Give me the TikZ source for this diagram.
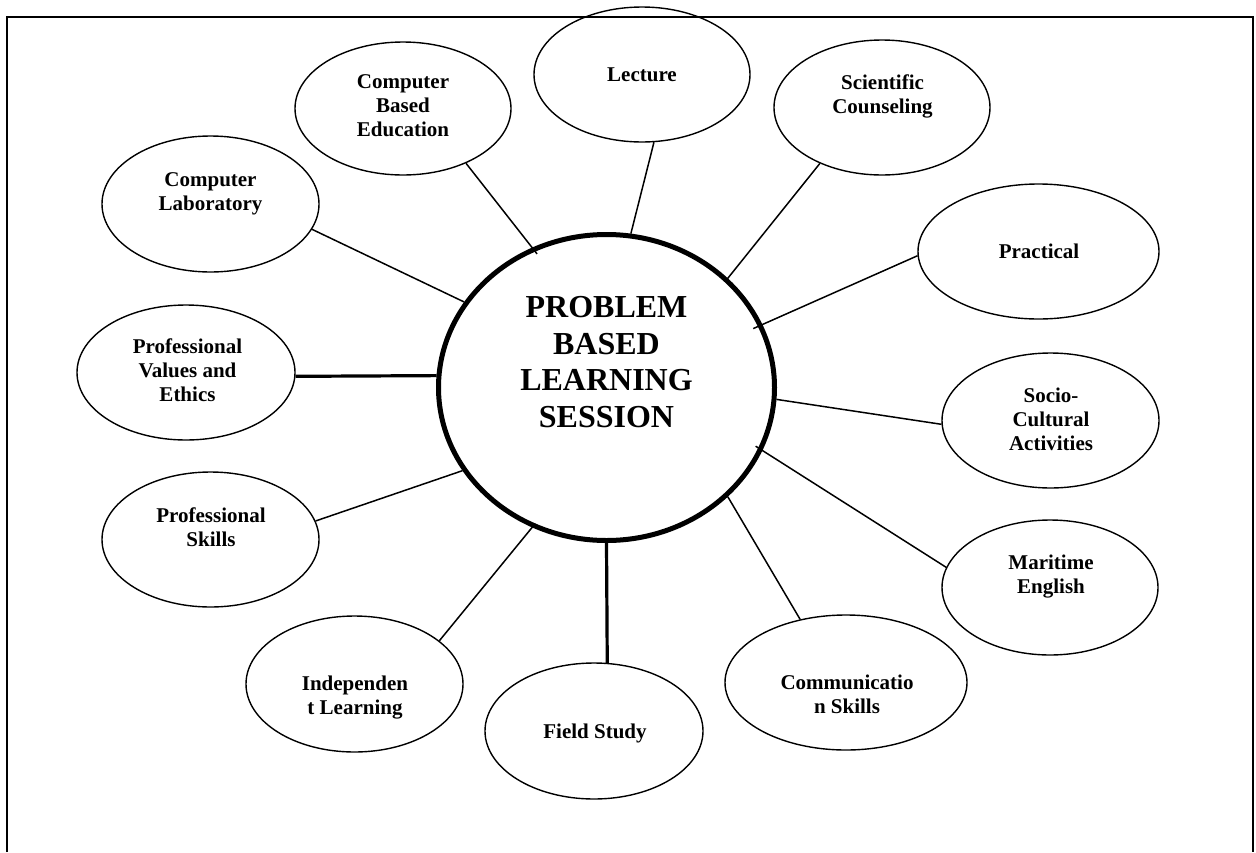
\documentclass[tikz,border=0pt]{standalone}
\usepackage{fontspec}
\setmainfont{Liberation Serif}
\usetikzlibrary{shapes.geometric}
\begin{document}
\begin{tikzpicture}[x=1pt,y=-1pt,
  topic/.style={draw, ellipse, line width=1.4pt, inner sep=0pt, minimum width=216pt, minimum height=135pt},
  hub/.style={draw, ellipse, line width=5pt, inner sep=0pt, minimum width=336pt, minimum height=306pt},
  lbl/.style={anchor=north, align=center, inner sep=0pt, font=\bfseries\fontsize{21}{24}\selectfont},
  hubtext/.style={anchor=north, align=center, inner sep=0pt, font=\bfseries\fontsize{32}{36.5}\selectfont},
  link/.style={line width=1.5pt},
  thicklink/.style={line width=3.2pt},
  frame/.style={line width=2pt}
]
\useasboundingbox (0,0) rectangle (1256,852);
% page frame (open at the bottom)
\draw[frame] (7,852) -- (7,17) -- (1253,17) -- (1253,852);

% hub
\node[hub] (pbl) at (606.5,387.5) {};
\node[hubtext] (pblt) at (606.5,296.3) {PROBLEM\\BASED\\LEARNING\\SESSION};

% topics
\node[topic] (lec) at (642,74.5) {};
\node[lbl] (lect) at (642,67.8) {Lecture};

\node[topic, minimum height=133pt] (cbe) at (403,108.5) {};
\node[lbl] (cbet) at (403,74.8) {Computer\\Based\\Education};

\node[topic] (sci) at (882,107.5) {};
\node[lbl] (scit) at (882.5,74.8) {Scientific\\Counseling};

\node[topic, minimum width=217pt, minimum height=136pt] (cl) at (210.5,204) {};
\node[lbl] (clt) at (210.5,172.8) {Computer\\Laboratory};

\node[topic, minimum width=218pt] (pve) at (186,372.5) {};
\node[lbl] (pvet) at (187.5,338.8) {Professional\\Values and\\Ethics};

\node[topic, minimum width=241pt] (prac) at (1038.5,251.5) {};
\node[lbl] (pract) at (1039,243.8) {Practical};

\node[topic, minimum width=217pt] (soc) at (1050.5,420.5) {};
\node[lbl] (soct) at (1051,387.8) {Socio-\\Cultural\\Activities};

\node[topic, minimum width=217pt] (ps) at (210.5,539.5) {};
\node[lbl] (pst) at (211,507.8) {Professional\\Skills};

\node[topic] (mar) at (1050,587.5) {};
\node[lbl] (mart) at (1051,554.8) {Maritime\\English};

\node[topic, minimum width=217pt, minimum height=136pt] (ind) at (354.5,684) {};
\node[lbl] (indt) at (355,675.8) {Independen\\t Learning};

\node[topic, minimum width=242pt] (com) at (846,682.5) {};
\node[lbl] (comt) at (847,674.8) {Communicatio\\n Skills};

\node[topic, minimum width=218pt, minimum height=136pt] (fs) at (594,731) {};
\node[lbl] (fst) at (595,723.8) {Field Study};

% connectors
\draw[link] (lec.-80.7) -- (pbl.81.4);
\draw[link, shorten >=-8pt] (cbe.-41) -- (pbl.118.5);
\draw[link, shorten >=-2pt] (sci.222.2) -- (pbl.42.3);
\draw[link] (cl.-14.9) -- (pbl.149.7);
\draw[thicklink] (pve.-2) -- (pbl.176.5);
\draw[link, shorten >=-10pt] (prac.182.4) -- (pbl.22.4);
\draw[link] (soc.182.6) -- (pbl.-4.6);
\draw[link, shorten >=-8pt] (mar.169.8) -- (pbl.-22.7);
\draw[link] (com.126) -- (pbl.-42.8);
\draw[thicklink] (fs.79) -- (pbl.-90);
\draw[link, shorten >=-5pt] (ind.27.6) -- (pbl.-118.7);
\draw[link] (ps.10.1) -- (pbl.210.6);
\end{tikzpicture}
\end{document}
